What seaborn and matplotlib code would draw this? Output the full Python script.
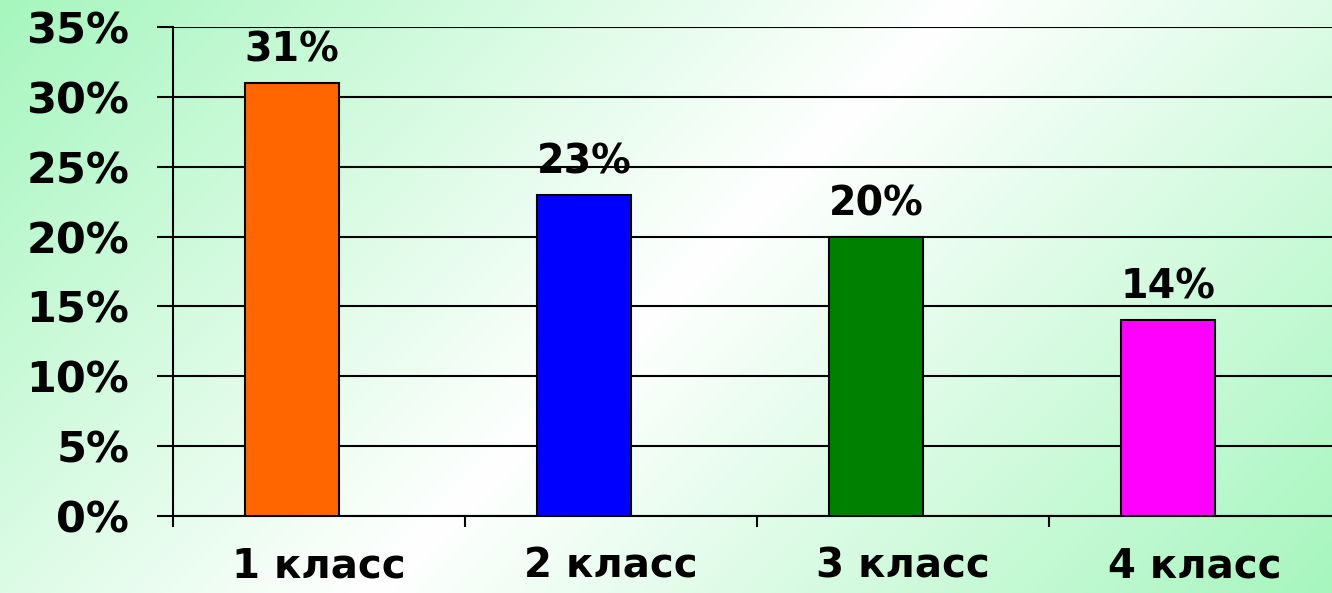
import numpy as np
import pandas as pd
import seaborn as sns
import matplotlib.pyplot as plt

# data
classes = ["1 класс", "2 класс", "3 класс", "4 класс"]
shares = [31, 23, 20, 14]
bar_colors = ["#FF6600", "#0000FF", "#008000", "#FF00FF"]
y_ticks = [0, 5, 10, 15, 20, 25, 30, 35]

sns.set_theme(style="white")
plt.rcParams['font.family'] = ['DejaVu Sans']
plt.rcParams['font.weight'] = 'bold'
plt.rcParams['text.color'] = 'black'
plt.rcParams['xtick.color'] = 'black'
plt.rcParams['ytick.color'] = 'black'

W, H = 1332, 593
fig = plt.figure(figsize=(W / 100, H / 100), dpi=100)

# diagonal gradient background: pale along the anti-diagonal, green in two corners
bg = fig.add_axes([0, 0, 1, 1], zorder=-1)
xx, yy = np.meshgrid(np.arange(W), np.arange(H))
t = np.abs((xx - W / 2) + (yy - H / 2))
t = t / t.max()
white = np.array([1.0, 1.0, 1.0])
green = np.array([166, 246, 190]) / 255
img = white[None, None, :] * (1 - t[..., None]) + green[None, None, :] * t[..., None]
bg.imshow(img, aspect='auto', extent=[0, 1, 0, 1])
bg.axis('off')

ax = fig.add_axes([173 / W, 1 - 516 / H, 1 - 173 / W, (516 - 27) / H])
ax.patch.set_alpha(0)

df = pd.DataFrame({"class": classes, "share": shares})
sns.barplot(data=df, x="class", y="share", hue="class", palette=bar_colors,
            legend=False, width=0.322, edgecolor="black", linewidth=1.5,
            saturation=1, ax=ax, zorder=3)

# category slots are shifted right of the bars (as in the original)
left = -0.407
right = left + (W - 173) / 292

ax.set_ylim(0, 35)
ax.set_yticks(y_ticks)
ax.set_yticklabels([f"{v}%" for v in y_ticks], fontsize=31, fontweight='bold')
ax.tick_params(axis='y', length=11.5, width=1.5, color='black', pad=20, left=True)
ax.grid(axis='y', color='black', linewidth=1.5, zorder=0)

bounds = [left + i for i in range(4)]
ax.set_xticks(bounds)
ax.set_xticklabels([""] * len(bounds))
ax.tick_params(axis='x', which='major', length=8, width=1.5, color='black', bottom=True)
ax.set_xticks([left + 0.5 + i for i in range(4)], minor=True)
ax.set_xticklabels(classes, minor=True, fontsize=29, fontweight='bold')
ax.tick_params(axis='x', which='minor', length=0, pad=22)
ax.set_xlim(left, right)
ax.set_xlabel("")
ax.set_ylabel("")

for s in ["top", "right"]:
    ax.spines[s].set_visible(False)
for s in ["left", "bottom"]:
    ax.spines[s].set_color('black')
    ax.spines[s].set_linewidth(1.5)

for i, v in enumerate(shares):
    ax.annotate(f"{v}%", (i, v), xytext=(0, 9), textcoords='offset points',
                ha='center', va='bottom', fontsize=28.5, fontweight='bold')

fig.savefig("out.png", dpi=100)
